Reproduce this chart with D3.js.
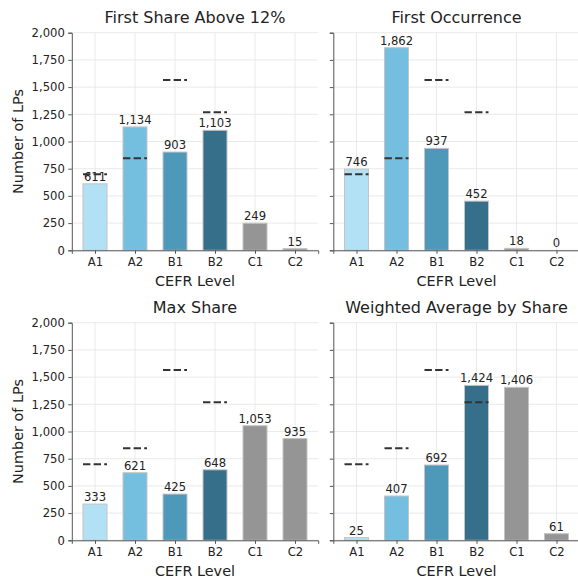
<!DOCTYPE html>
<html>
<head>
<meta charset="utf-8">
<script src="https://cdn.jsdelivr.net/npm/d3@7"></script>
<style>
  html, body { margin: 0; padding: 0; background: #fff; }
  svg { display: block; font-family: "DejaVu Sans", sans-serif; }
</style>
</head>
<body>
<svg id="chart" width="578" height="578"></svg>
<script>
// CEFR levels on the x axis
const levels = ["A1", "A2", "B1", "B2", "C1", "C2"];

// Number of LPs assigned to each level, per assignment method
const firstShareAbove12 = [611, 1134, 903, 1103, 249, 15];
const firstOccurrence = [746, 1862, 937, 452, 18, 0];
const maxShare = [333, 621, 425, 648, 1053, 935];
const weightedAverage = [25, 407, 692, 1424, 1406, 61];

// Reference counts shown as dashed markers (A1–B2 only)
const referenceCounts = [700, 845, 1565, 1268];

const panelTitles = ["First Share Above 12%", "First Occurrence", "Max Share", "Weighted Average by Share"];
const panelValues = [firstShareAbove12, firstOccurrence, maxShare, weightedAverage];

const yTicks = [0, 250, 500, 750, 1000, 1250, 1500, 1750, 2000];
const levelColors = ["#b2e1f6", "#74bfe0", "#4e98b9", "#366f89", "#959595", "#959595"];

const svg = d3.select("#chart");
const fmt = d3.format(",");

const panelW = 246.4, panelH = 217.6;
const panelX = [71.8, 333.3];
const panelY = [32.7, 322.7];

panelTitles.forEach((title, i) => {
  const col = i % 2, row = Math.floor(i / 2);
  const values = panelValues[i];
  const g = svg.append("g").attr("transform", `translate(${panelX[col]},${panelY[row]})`);

  const x = d3.scaleLinear().domain([-0.58, 5.58]).range([0, panelW]);
  const y = d3.scaleLinear().domain([0, 2000]).range([panelH, 0]);
  const barW = x(0.6) - x(0);

  // grid
  g.append("g").selectAll("line.hg").data(yTicks).join("line")
    .attr("x1", 0).attr("x2", panelW)
    .attr("y1", d => y(d)).attr("y2", d => y(d))
    .attr("stroke", "#e4e4e4").attr("stroke-width", 0.8);
  g.append("g").selectAll("line.vg").data(levels).join("line")
    .attr("x1", (d, j) => x(j)).attr("x2", (d, j) => x(j))
    .attr("y1", 0).attr("y2", panelH)
    .attr("stroke", "#e4e4e4").attr("stroke-width", 0.8);

  // bars
  g.append("g").selectAll("rect").data(values).join("rect")
    .attr("x", (d, j) => x(j) - barW / 2)
    .attr("width", barW)
    .attr("y", d => y(d))
    .attr("height", d => y(0) - y(d))
    .attr("fill", (d, j) => levelColors[j])
    .attr("stroke", "#c4c4c4")
    .attr("stroke-width", 1);

  // value labels
  g.append("g").selectAll("text").data(values).join("text")
    .attr("x", (d, j) => x(j))
    .attr("y", d => y(d) - 3)
    .attr("text-anchor", "middle")
    .attr("font-size", 11.6)
    .attr("fill", "#222")
    .text(d => fmt(d));

  // dashed reference markers
  g.append("g").selectAll("line").data(referenceCounts).join("line")
    .attr("x1", (d, j) => x(j) - barW / 2)
    .attr("x2", (d, j) => x(j) + barW / 2)
    .attr("y1", d => y(d)).attr("y2", d => y(d))
    .attr("stroke", "#333")
    .attr("stroke-width", 2)
    .attr("stroke-dasharray", "7.4,3.2");

  // y axis
  const yAxis = d3.axisLeft(y).tickValues(yTicks).tickSize(3.5).tickPadding(3.5)
    .tickFormat(col === 0 ? fmt : () => "");
  const ya = g.append("g").call(yAxis);
  ya.select(".domain").attr("stroke", "#555");
  ya.selectAll(".tick line").attr("stroke", "#555");
  ya.selectAll("text").attr("font-size", 11.6).attr("fill", "#222").attr("font-family", "DejaVu Sans");

  // x axis
  const xAxis = d3.axisBottom(x).tickValues(d3.range(levels.length)).tickSize(3.5).tickPadding(3.5)
    .tickFormat(j => levels[j]);
  const xa = g.append("g").attr("transform", `translate(0,${panelH})`).call(xAxis);
  xa.select(".domain").attr("stroke", "#555");
  xa.selectAll(".tick line").attr("stroke", "#555");
  xa.selectAll("text").attr("font-size", 11.6).attr("fill", "#222").attr("font-family", "DejaVu Sans");

  // title
  g.append("text")
    .attr("x", panelW / 2).attr("y", -10)
    .attr("text-anchor", "middle")
    .attr("font-size", 16).attr("fill", "#222")
    .text(title);

  // x label
  g.append("text")
    .attr("x", panelW / 2).attr("y", panelH + 36)
    .attr("text-anchor", "middle")
    .attr("font-size", 14.4).attr("fill", "#222")
    .text("CEFR Level");

  // y label
  if (col === 0) {
    g.append("text")
      .attr("transform", `translate(-49,${panelH / 2}) rotate(-90)`)
      .attr("text-anchor", "middle")
      .attr("font-size", 14.4).attr("fill", "#222")
      .text("Number of LPs");
  }
});
</script>
</body>
</html>
